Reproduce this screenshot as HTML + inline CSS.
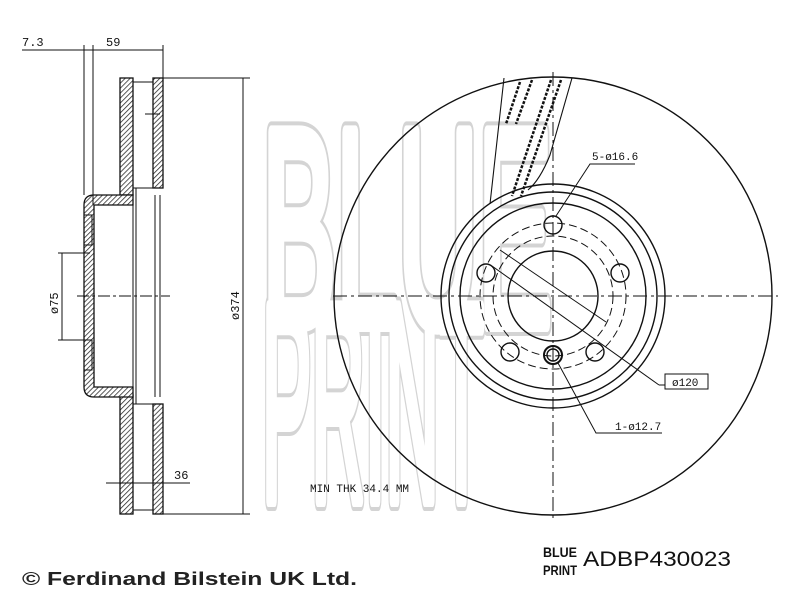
<!DOCTYPE html>
<html><head><style>
html,body{margin:0;padding:0;background:#fff;}
svg{display:block;}
</style></head><body>
<svg width="800" height="608" viewBox="0 0 800 608" xmlns="http://www.w3.org/2000/svg">
<defs>
<pattern id="h" width="3.5" height="3.5" patternUnits="userSpaceOnUse" patternTransform="rotate(45)">
<rect width="4" height="4" fill="#fff"/><line x1="0" y1="0" x2="0" y2="4" stroke="#222" stroke-width="1.5"/>
</pattern>
</defs>
<!-- watermark: outlined thick letters -->
<g font-family="Liberation Sans, sans-serif" font-size="280" stroke-linejoin="round">
<g fill="#d4d4d4" stroke="#d4d4d4" stroke-width="22">
<text x="262" y="325" textLength="290" lengthAdjust="spacingAndGlyphs">BLUE</text>
<text x="262" y="500" textLength="222" lengthAdjust="spacingAndGlyphs">PRINT</text>
</g>
<g fill="#fff" stroke="#fff" stroke-width="14">
<text x="262" y="325" textLength="290" lengthAdjust="spacingAndGlyphs">BLUE</text>
<text x="262" y="500" textLength="222" lengthAdjust="spacingAndGlyphs">PRINT</text>
</g>
</g>

<!-- LEFT SECTION -->
<g stroke="#111" stroke-width="1.3" fill="url(#h)">
<rect x="120" y="78" width="13" height="117"/>
<rect x="120" y="395" width="13" height="119"/>
<rect x="153" y="78" width="10" height="110"/>
<rect x="153" y="404" width="10" height="110"/>
<path d="M84 205 Q84 195 94 195 L133 195 L133 205 L94 205 L94 387 L133 387 L133 397 L94 397 Q84 397 84 387 Z"/>
</g>
<g stroke="#111" stroke-width="1" fill="none">
<line x1="133" y1="82" x2="153" y2="82"/><line x1="133" y1="188" x2="153" y2="188"/>
<line x1="133" y1="404" x2="153" y2="404"/><line x1="133" y1="510" x2="153" y2="510"/>
<line x1="133" y1="195" x2="133" y2="397"/>
<line x1="136" y1="188" x2="136" y2="404"/>
<line x1="155" y1="195" x2="155" y2="397"/>
<line x1="160" y1="195" x2="160" y2="397"/>
<rect x="84" y="215" width="8" height="30"/><rect x="84" y="340" width="8" height="30"/>
<line x1="22" y1="50" x2="163" y2="50"/>
<line x1="84" y1="45" x2="84" y2="195"/>
<line x1="93" y1="45" x2="93" y2="205"/>
<line x1="163" y1="45" x2="163" y2="78"/>
<line x1="163" y1="78" x2="250" y2="78"/>
<line x1="163" y1="514" x2="250" y2="514"/>
<line x1="243" y1="78" x2="243" y2="514"/>
<line x1="58" y1="253" x2="90" y2="253"/><line x1="58" y1="340" x2="90" y2="340"/>
<line x1="62" y1="253" x2="62" y2="340"/>
<line x1="106" y1="483" x2="190" y2="483"/>
<line x1="145" y1="114" x2="160" y2="114"/>
<line x1="77" y1="296" x2="170" y2="296" stroke-dasharray="12,3,3,3"/>
</g>
<g font-family="Liberation Mono, monospace" font-size="12" fill="#111">
<text x="22" y="46">7.3</text><text x="106" y="46">59</text>
<text x="174" y="479">36</text>
<text transform="translate(58,314) rotate(-90)">ø75</text>
<text transform="translate(239,320) rotate(-90)">ø374</text>
</g>

<!-- RIGHT DISC -->
<g stroke="#111" fill="none" stroke-width="1.4">
<circle cx="553" cy="296" r="219"/>
<circle cx="553" cy="296" r="112"/>
<circle cx="553" cy="296" r="104"/>
<circle cx="553" cy="296" r="93"/>
<circle cx="553" cy="296" r="45"/>
<circle cx="553" cy="296" r="73" stroke-width="1" stroke-dasharray="8,4"/>
<circle cx="553" cy="296" r="60" stroke-width="1" stroke-dasharray="8,4"/>
<circle cx="553" cy="225" r="9"/>
<circle cx="486" cy="273" r="9"/>
<circle cx="620" cy="273" r="9"/>
<circle cx="510" cy="352" r="9"/>
<circle cx="595" cy="352" r="9"/>
<circle cx="553" cy="355" r="9" stroke-width="2"/>
<circle cx="553" cy="355" r="6"/>
<path d="M504 78 L490 204 M572 78 L550 155 Q540 180 528 190" stroke-width="1.1"/>
<path d="M520 82 L506 124 M532 80 L516 124 M551 80 L512 196 M561 80 L521 196" stroke-width="2.5" stroke-dasharray="3,1.5"/>
<line x1="500" y1="250" x2="606" y2="322" stroke-width="1"/>
<line x1="492" y1="266" x2="659" y2="385" stroke-width="1"/>
<line x1="659" y1="385" x2="665" y2="385" stroke-width="1"/>
<polyline points="556,216 590,164 635,164" stroke-width="1"/>
<polyline points="558,363 596,433 662,433" stroke-width="1"/>
<rect x="665" y="374" width="43" height="15" stroke-width="1"/>
<line x1="333" y1="296" x2="778" y2="296" stroke-width="1" stroke-dasharray="14,4,3,4"/>
<line x1="553" y1="72" x2="553" y2="520" stroke-width="1" stroke-dasharray="14,4,3,4"/>
</g>
<g font-family="Liberation Mono, monospace" font-size="11" fill="#111">
<text x="592" y="160">5-ø16.6</text>
<text x="672" y="386">ø120</text>
<text x="615" y="430">1-ø12.7</text>
<text x="310" y="492">MIN THK 34.4 MM</text>
</g>

<!-- footer -->
<text x="22" y="585" font-family="Liberation Sans, sans-serif" font-weight="bold" font-size="18" fill="#222" textLength="335" lengthAdjust="spacingAndGlyphs">© Ferdinand Bilstein UK Ltd.</text>
<g font-family="Liberation Sans, sans-serif" font-weight="bold" fill="#111">
<text x="543" y="557" font-size="14" textLength="34" lengthAdjust="spacingAndGlyphs">BLUE</text>
<text x="543" y="575" font-size="14" textLength="34" lengthAdjust="spacingAndGlyphs">PRINT</text>
</g>
<text x="583" y="566" font-family="Liberation Sans, sans-serif" font-size="21" fill="#111" textLength="148" lengthAdjust="spacingAndGlyphs">ADBP430023</text>
</svg>
</body></html>
